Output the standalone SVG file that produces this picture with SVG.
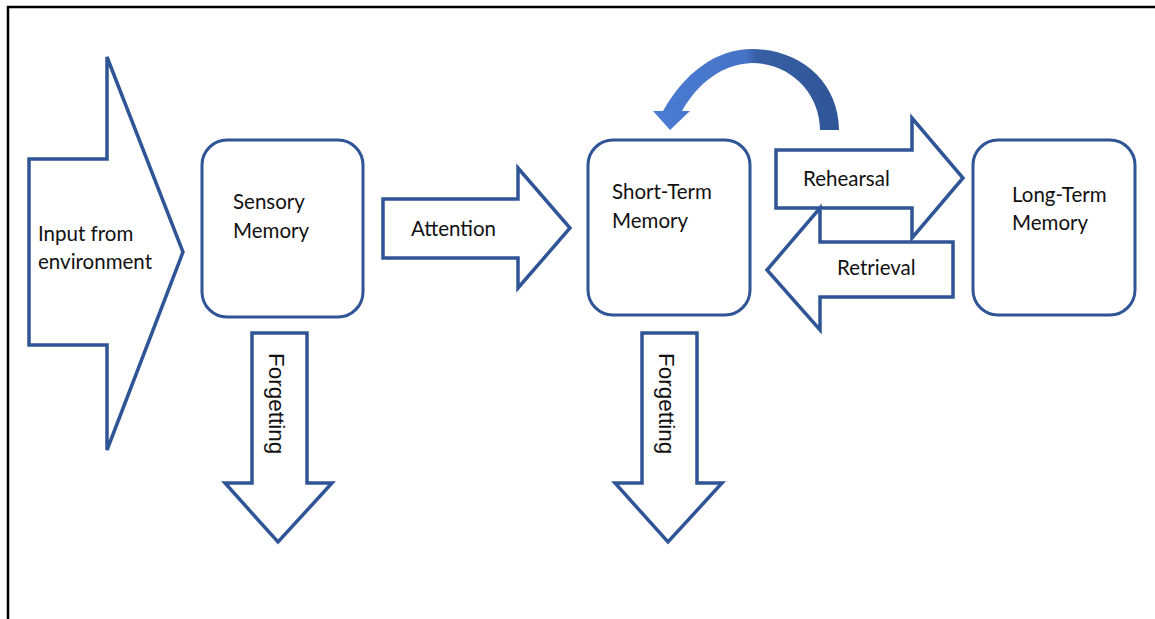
<svg xmlns="http://www.w3.org/2000/svg" width="1155" height="619" viewBox="0 0 1155 619">
<defs>
<linearGradient id="curveGrad" x1="653" y1="0" x2="839" y2="0" gradientUnits="userSpaceOnUse">
<stop offset="0" stop-color="#4A7CD3"/>
<stop offset="0.5" stop-color="#4673C6"/>
<stop offset="0.56" stop-color="#375FA2"/>
<stop offset="1" stop-color="#2F5597"/>
</linearGradient>
<style>
.frame{fill:none;stroke:#000;stroke-width:2.5}
.box{fill:#fff;stroke:#2F5597;stroke-width:3}
.blk{fill:#fff;stroke:#2F5597;stroke-width:3.5;stroke-linejoin:miter}
.lbl{font-family:Lato,"Liberation Sans",sans-serif;font-size:20.5px;fill:#111}
.vlbl{font-family:"Liberation Sans",Arial,sans-serif;font-size:22.5px;fill:#111}
</style>
</defs>
<rect width="1155" height="619" fill="#fff"/>
<path class="frame" d="M8,619 V7 H1155"/>

<g id="connectors">
<g id="input-arrow">
<polygon class="blk" points="29,159 107,159 107,57 183,252 107,450 107,345 29,345"/>
<text class="lbl" x="38" y="241">Input from</text>
<text class="lbl" x="38" y="269">environment</text>
</g>
<g id="attention-arrow">
<polygon class="blk" points="383,199 518,199 518,168 570,228 518,288 518,258 383,258"/>
<text class="lbl" x="411" y="236">Attention</text>
</g>
<g id="rehearsal-arrow">
<polygon class="blk" points="776,150 912,150 912,118 963,178 912,238 912,208 776,208"/>
<text class="lbl" x="803" y="186">Rehearsal</text>
</g>
<g id="retrieval-arrow">
<polygon class="blk" points="953,242 820,242 820,208 767,270 820,330 820,297 953,297"/>
<text class="lbl" x="837" y="275">Retrieval</text>
</g>
<g id="forget-sensory">
<polygon class="blk" points="252,333 307,333 307,483 332,483 278,542 225,483 252,483"/>
<text class="vlbl" transform="translate(269,353) rotate(90)">Forgetting</text>
</g>
<g id="forget-stm">
<polygon class="blk" points="642,333 697,333 697,483 722,483 668,542 615,483 642,483"/>
<text class="vlbl" transform="translate(659,353) rotate(90)">Forgetting</text>
</g>
<g id="rehearsal-loop">
<path fill="url(#curveGrad)" d="M839,130 C839,82 800,49 752,49 C715,49 684,74 663,111 L653,111 L670,130 L690,111 L682,111 C698,83 722,64 752,63 C790,63 820,93 820,130 Z"/>
</g>
</g>

<g id="sensory-memory">
<rect class="box" x="202" y="140" width="161" height="177" rx="25"/>
<text class="lbl" x="233" y="209">Sensory</text>
<text class="lbl" x="233" y="238">Memory</text>
</g>
<g id="short-term-memory">
<rect class="box" x="588" y="140" width="162" height="175" rx="25"/>
<text class="lbl" x="612" y="199">Short-Term</text>
<text class="lbl" x="612" y="228">Memory</text>
</g>
<g id="long-term-memory">
<rect class="box" x="973" y="140" width="162" height="175" rx="25"/>
<text class="lbl" x="1012" y="202">Long-Term</text>
<text class="lbl" x="1012" y="230">Memory</text>
</g>
</svg>
